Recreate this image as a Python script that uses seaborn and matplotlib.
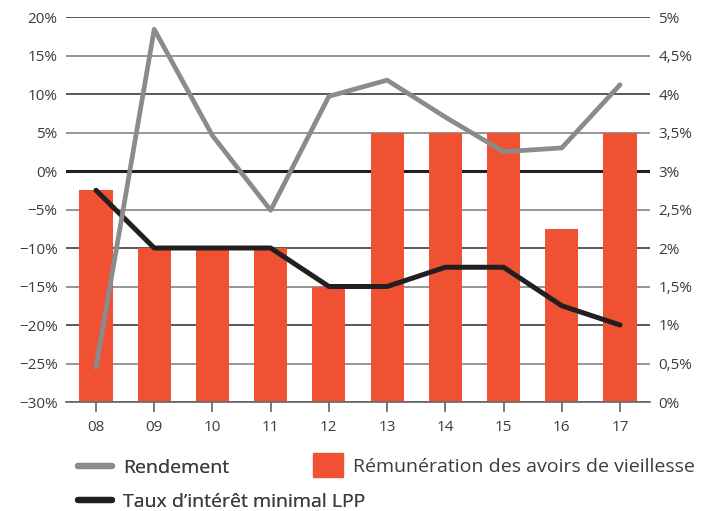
import numpy as np
import pandas as pd
import seaborn as sns
import matplotlib.pyplot as plt
from matplotlib.lines import Line2D
from matplotlib.patches import Patch

# --- data ---
years = ["08", "09", "10", "11", "12", "13", "14", "15", "16", "17"]
rendement = [-25.5, 18.4, 4.6, -5.1, 9.7, 11.8, 7.0, 2.5, 3.0, 11.2]          # left axis, %
remuneration = [2.75, 2.0, 2.0, 2.0, 1.5, 3.5, 3.5, 3.5, 2.25, 3.5]          # right axis, %
taux_lpp = [2.75, 2.0, 2.0, 2.0, 1.5, 1.5, 1.75, 1.75, 1.25, 1.0]            # right axis, %

left_ticks = [20, 15, 10, 5, 0, -5, -10, -15, -20, -25, -30]
right_ticks = [5, 4.5, 4, 3.5, 3, 2.5, 2, 1.5, 1, 0.5, 0]

ORANGE = "#f05133"
GREY = "#8a8b8d"
BLACK = "#231f20"
TEXT = "#3c3c3c"

df = pd.DataFrame({
    "annee": years,
    "pos": np.arange(len(years)),
    "rendement": rendement,
    "remuneration": remuneration,
    "taux": taux_lpp,
})

sns.set_theme(style="white")
plt.rcParams["font.family"] = ["Open Sans", "DejaVu Sans"]

fig = plt.figure(figsize=(7.02, 5.11), dpi=100)
ax2 = fig.add_axes([66 / 702, 1 - 402 / 511, (650 - 66) / 702, (402 - 17) / 511])
ax = ax2.twinx()
# ax (left scale, rendement) on top, ax2 (right scale, bars + grid) below
ax.set_zorder(ax2.get_zorder() + 1)
ax.patch.set_visible(False)

# grid lines on the bar axis so the bars cover them
for t in right_ticks:
    major = abs(t % 1) < 1e-9
    if t == 3:
        ax2.axhline(t, color=BLACK, lw=2.2, zorder=0)
    elif major:
        ax2.axhline(t, color="#2b2b2b", lw=1.1, zorder=0)
    else:
        ax2.axhline(t, color="#8c8c8c", lw=1.3, zorder=0)

sns.barplot(data=df, x="annee", y="remuneration", ax=ax2, color=ORANGE,
            saturation=1, width=0.57, linewidth=0, zorder=2)
sns.lineplot(data=df, x="pos", y="taux", ax=ax2, color=BLACK, lw=3.6,
             zorder=3, legend=False)
sns.lineplot(data=df, x="pos", y="rendement", ax=ax, color=GREY, lw=3.4,
             zorder=4, legend=False)

ax2.set_ylim(0, 5)
ax.set_ylim(-30, 20)
ax2.set_xlim(-0.515, 9.515)

# tick layout: ax2 is left in position but holds right scale -> swap sides
ax2.yaxis.tick_right()
ax2.set_yticks(right_ticks)
ax2.set_yticklabels([(f"{t:g}".replace(".", ",") + "%") for t in right_ticks])
ax.yaxis.tick_left()
ax.set_yticks(left_ticks)
ax.set_yticklabels([f"{t}%".replace("-", "\u2212") for t in left_ticks])

for a in (ax, ax2):
    a.set_xlabel("")
    a.set_ylabel("")
    for s in a.spines.values():
        s.set_visible(False)
    a.tick_params(axis="y", length=0, labelsize=11, labelcolor=TEXT, pad=6)

ax2.spines["bottom"].set_visible(True)
ax2.spines["bottom"].set_color("#666666")
ax2.spines["bottom"].set_linewidth(1.2)
ax2.set_xticks(df["pos"])
ax2.set_xticklabels(years)
ax2.tick_params(axis="x", bottom=True, direction="out", length=7, width=1.1,
                color="#555555", labelsize=11, labelcolor=TEXT, pad=6)
ax.tick_params(axis="x", bottom=False, labelbottom=False)

# legend, laid out like the original
h_lines = [Line2D([0], [0], color=GREY, lw=4.5),
           Line2D([0], [0], color=BLACK, lw=4.5)]
leg1 = fig.legend(h_lines, ["Rendement", "Taux d\u2019intérêt minimal LPP"],
                  loc="upper left", bbox_to_anchor=(78 / 702, 1 - 459 / 511),
                  frameon=False, fontsize=14, handlelength=1.75,
                  handletextpad=0.55, labelspacing=0.8, labelcolor=TEXT,
                  borderpad=0, borderaxespad=0)
fig.legend([Patch(color=ORANGE)], ["Rémunération des avoirs de vieillesse"],
           loc="upper left", bbox_to_anchor=(313 / 702, 1 - 453 / 511),
           frameon=False, fontsize=14, handlelength=1.55, handleheight=1.55,
           handletextpad=0.5, labelcolor=TEXT, borderpad=0, borderaxespad=0)
fig.add_artist(leg1)

fig.savefig("out.png", dpi=100)
